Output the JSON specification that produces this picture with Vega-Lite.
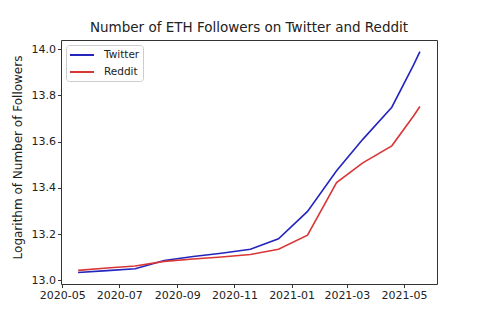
{
  "$schema": "https://vega.github.io/schema/vega-lite/v6.json",
  "width": 376,
  "height": 244,
  "autosize": {"type": "none"},
  "padding": {"left": 61, "top": 40, "right": 48, "bottom": 39},
  "background": "white",
  "title": {"text": "Number of ETH Followers on Twitter and Reddit", "font": "DejaVu Sans", "fontSize": 13.5, "fontWeight": "normal", "color": "#222222", "offset": 6},
  "config": {
    "view": {"stroke": "#333333", "strokeWidth": 1},
    "axis": {"labelFont": "DejaVu Sans", "titleFont": "DejaVu Sans", "labelFontSize": 11, "titleFontSize": 12, "titleFontWeight": "normal", "labelColor": "#222222", "titleColor": "#222222", "tickColor": "#333333", "tickSize": 3.5, "labelPadding": 2, "domain": false, "grid": false}
  },
  "data": {"values": [
    {"date": "2020-05-18", "series": "Twitter", "value": 13.034},
    {"date": "2020-06-18", "series": "Twitter", "value": 13.042},
    {"date": "2020-07-18", "series": "Twitter", "value": 13.05},
    {"date": "2020-08-18", "series": "Twitter", "value": 13.086},
    {"date": "2020-09-18", "series": "Twitter", "value": 13.103},
    {"date": "2020-10-18", "series": "Twitter", "value": 13.117},
    {"date": "2020-11-18", "series": "Twitter", "value": 13.134},
    {"date": "2020-12-18", "series": "Twitter", "value": 13.18},
    {"date": "2021-01-18", "series": "Twitter", "value": 13.298},
    {"date": "2021-02-18", "series": "Twitter", "value": 13.474},
    {"date": "2021-03-18", "series": "Twitter", "value": 13.61},
    {"date": "2021-04-18", "series": "Twitter", "value": 13.749},
    {"date": "2021-05-11", "series": "Twitter", "value": 13.93},
    {"date": "2021-05-18", "series": "Twitter", "value": 13.99},
    {"date": "2020-05-18", "series": "Reddit", "value": 13.043},
    {"date": "2020-06-18", "series": "Reddit", "value": 13.053},
    {"date": "2020-07-18", "series": "Reddit", "value": 13.062},
    {"date": "2020-08-18", "series": "Reddit", "value": 13.082},
    {"date": "2020-09-18", "series": "Reddit", "value": 13.092},
    {"date": "2020-10-18", "series": "Reddit", "value": 13.101},
    {"date": "2020-11-18", "series": "Reddit", "value": 13.112},
    {"date": "2020-12-18", "series": "Reddit", "value": 13.134},
    {"date": "2021-01-18", "series": "Reddit", "value": 13.195},
    {"date": "2021-02-18", "series": "Reddit", "value": 13.423},
    {"date": "2021-03-18", "series": "Reddit", "value": 13.508},
    {"date": "2021-04-18", "series": "Reddit", "value": 13.582},
    {"date": "2021-05-11", "series": "Reddit", "value": 13.71},
    {"date": "2021-05-18", "series": "Reddit", "value": 13.752}
  ]},
  "mark": {"type": "line", "strokeWidth": 1.6, "clip": true},
  "encoding": {
    "x": {
      "field": "date", "type": "temporal",
      "scale": {"domain": [{"year": 2020, "month": 4, "date": 29, "hours": 18}, {"year": 2021, "month": 6, "date": 5, "hours": 6}]},
      "axis": {
        "title": null, "format": "%Y-%m", "labelFlush": false,
        "values": [
          {"year": 2020, "month": 5, "date": 1},
          {"year": 2020, "month": 7, "date": 1},
          {"year": 2020, "month": 9, "date": 1},
          {"year": 2020, "month": 11, "date": 1},
          {"year": 2021, "month": 1, "date": 1},
          {"year": 2021, "month": 3, "date": 1},
          {"year": 2021, "month": 5, "date": 1}
        ]
      }
    },
    "y": {
      "field": "value", "type": "quantitative",
      "scale": {"domain": [12.984, 14.04], "nice": false, "zero": false},
      "axis": {"title": "Logarithm of Number of Followers", "values": [13.0, 13.2, 13.4, 13.6, 13.8, 14.0], "format": ".1f", "titleX": -44, "titleY": 117, "titleBaseline": "middle", "titleAlign": "center", "titleAngle": -90}
    },
    "color": {
      "field": "series", "type": "nominal",
      "scale": {"domain": ["Twitter", "Reddit"], "range": ["#2424bf", "#d93636"]},
      "legend": {
        "title": null, "orient": "top-left", "offset": 5,
        "fillColor": "white", "strokeColor": "#cccccc", "cornerRadius": 3, "padding": 3,
        "symbolType": "M-2,0L2,0", "symbolSize": 144, "symbolStrokeWidth": 2, "symbolOffset": 6, "labelOffset": 15,
        "labelFont": "DejaVu Sans", "labelFontSize": 10.5, "labelColor": "#222222", "rowPadding": 4
      }
    }
  }
}
